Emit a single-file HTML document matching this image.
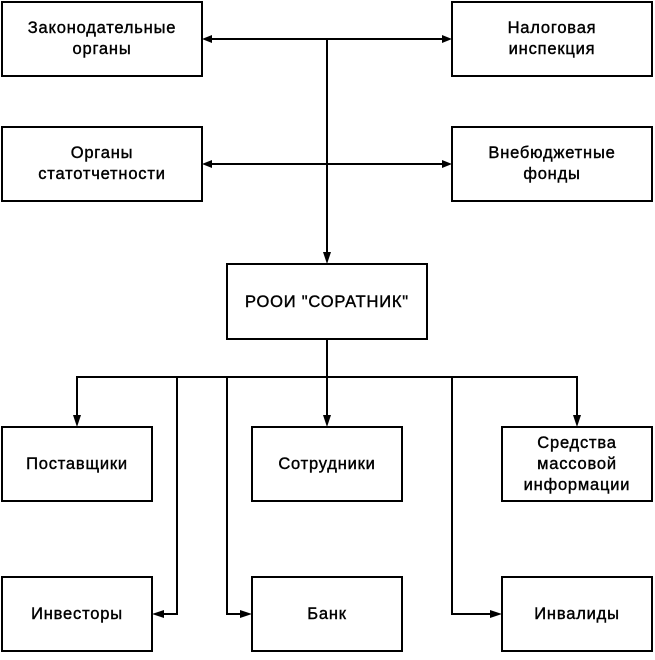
<!DOCTYPE html>
<html><head><meta charset="utf-8"><style>
html,body{margin:0;padding:0;background:#fff;}
svg text{font-family:"Liberation Sans",Arial,sans-serif;font-size:16.5px;letter-spacing:0.8px;fill:#000;stroke:#000;stroke-width:0.4;text-anchor:middle;}
</style></head><body>
<svg width="655" height="655" viewBox="0 0 655 655" xmlns="http://www.w3.org/2000/svg">
<g fill="none" stroke="#000" stroke-width="2">
<rect x="2" y="2" width="200" height="74"/>
<rect x="452" y="2" width="200" height="74"/>
<rect x="2" y="127" width="200" height="74"/>
<rect x="452" y="127" width="200" height="74"/>
<rect x="227" y="264" width="200" height="75"/>
<rect x="2" y="427" width="150" height="74"/>
<rect x="252" y="427" width="150" height="74"/>
<rect x="502" y="427" width="150" height="74"/>
<rect x="2" y="577" width="150" height="74"/>
<rect x="252" y="577" width="150" height="74"/>
<rect x="502" y="577" width="150" height="74"/>
<path d="M212 39H442M212 164H442M327 39V254M327 339V377M76 377H578M77 377V417M327 377V417M577 377V417M177 377V614H162M227 377V614H242M452 377V614H492"/>
</g>
<g fill="#000">
<polygon points="202,39 212,35 212,43"/><polygon points="452,39 442,35 442,43"/>
<polygon points="202,164 212,160 212,168"/><polygon points="452,164 442,160 442,168"/>
<polygon points="327,264 323,252 331,252"/>
<polygon points="77,427 73,415 81,415"/><polygon points="327,427 323,415 331,415"/><polygon points="577,427 573,415 581,415"/>
<polygon points="152,614 164,610 164,618"/><polygon points="252,614 240,610 240,618"/><polygon points="502,614 490,610 490,618"/>
</g>
<text x="102" y="33">Законодательные</text><text x="102" y="54">органы</text>
<text x="552" y="33">Налоговая</text><text x="552" y="54">инспекция</text>
<text x="102" y="158">Органы</text><text x="102" y="179">статотчетности</text>
<text x="552" y="158">Внебюджетные</text><text x="552" y="179">фонды</text>
<text x="327" y="307">РООИ "СОРАТНИК"</text>
<text x="77" y="469">Поставщики</text>
<text x="327" y="469">Сотрудники</text>
<text x="577" y="448">Средства</text><text x="577" y="469">массовой</text><text x="577" y="490">информации</text>
<text x="77" y="619">Инвесторы</text>
<text x="327" y="619">Банк</text>
<text x="577" y="619">Инвалиды</text>
</svg>
</body></html>
